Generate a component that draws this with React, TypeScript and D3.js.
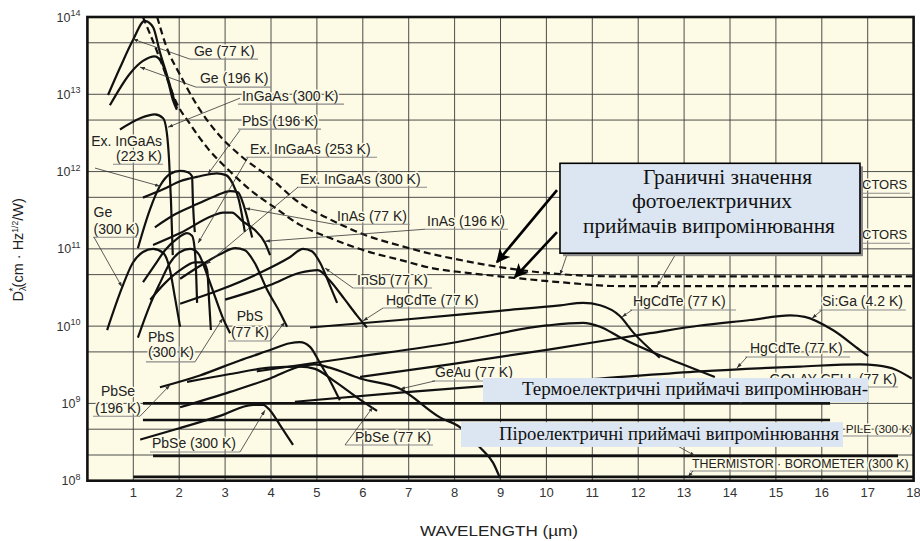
import React, { useEffect, useRef } from 'react';
import * as d3 from 'd3';

type Pt = [number, number];

// ---------- axes ----------
const xTickValues = [1, 2, 3, 4, 5, 6, 7, 8, 9, 10, 11, 12, 13, 14, 15, 16, 17, 18];
const xTickLabels = ['1', '2', '3', '4', '5', '6', '7', '8', '9', '10', '11', '12', '13', '14', '15', '16', '17', '18'];
const xGridValues = [1, 2, 3, 4, 5, 6, 7, 8, 9, 10, 11, 12, 13, 14, 15, 16, 17];
const yDecadeExps = [8, 9, 10, 11, 12, 13, 14];
const yMinorGrid = [2.15e8, 4.64e8, 4.64e9, 4.64e10, 4.64e11, 4.64e12, 4.64e13];

// ---------- photon detectors: [wavelength µm, D*] ----------
const ge77: Pt[] = [[0.45, 9.8e12], [0.71, 2.2e13], [0.99, 5.0e13], [1.25, 8.9e13], [1.43, 7.4e13], [1.58, 3.5e13], [1.73, 1.8e13], [1.84, 1.07e13], [1.95, 6.6e12]];
const ge196: Pt[] = [[0.49, 7.2e12], [0.93, 1.86e13], [1.21, 2.7e13], [1.47, 3.1e13], [1.63, 2.5e13], [1.76, 1.45e13], [1.86, 8.5e12], [1.95, 6.3e12]];
const ingaas300: Pt[] = [[0.71, 3.5e12], [1.15, 4.9e12], [1.47, 5.5e12], [1.65, 4.9e12], [1.73, 3.2e12], [1.78, 1.4e12], [1.82, 4.3e11], [1.86, 8.3e10]];
const exIngaas223: Pt[] = [[1.10, 1.02e11], [1.36, 3.2e11], [1.58, 6.5e11], [1.80, 9.3e11], [2.02, 1.02e12], [2.19, 9.8e11], [2.28, 8.7e11], [2.30, 3.9e11], [2.34, 1.65e11]];
const pbs196: Pt[] = [[1.21, 4.6e11], [1.65, 5.9e11], [2.02, 7.5e11], [2.45, 8.7e11], [2.82, 9.5e11], [3.02, 9.0e11], [3.17, 6.9e11], [3.30, 4.3e11], [3.43, 1.66e11]];
const exIngaas253: Pt[] = [[1.21, 3.7e10], [1.47, 6.2e10], [1.69, 9.6e10], [1.97, 1.38e11], [2.17, 1.6e11], [2.28, 1.48e11], [2.34, 9.6e10], [2.37, 4.6e10], [2.39, 2.0e10]];
const exIngaas300: Pt[] = [[1.37, 2.2e10], [1.69, 3.6e10], [2.02, 5.3e10], [2.34, 6.7e10], [2.52, 6.7e10], [2.61, 5.3e10], [2.65, 2.2e10], [2.69, 8.9e9]];
const pbs300: Pt[] = [[1.10, 7.1e9], [1.36, 1.86e10], [1.58, 3.6e10], [1.80, 6.6e10], [2.02, 9.1e10], [2.24, 1.0e11], [2.41, 8.8e10], [2.61, 4.6e10], [2.78, 2.4e10], [2.95, 1.28e10], [3.11, 8.1e9]];
const ge300: Pt[] = [[0.43, 8.9e9], [0.75, 3.1e10], [0.99, 6.6e10], [1.21, 9.1e10], [1.43, 1.0e11], [1.65, 8.9e10], [1.80, 5.3e10], [1.91, 2.3e10], [2.02, 9.8e9]];
const inas77: Pt[] = [[1.47, 1.9e11], [1.91, 2.8e11], [2.39, 3.8e11], [2.78, 4.8e11], [3.11, 5.6e11], [3.28, 5.4e11], [3.39, 3.9e11], [3.50, 2.3e11], [3.59, 1.4e11]];
const inas196: Pt[] = [[1.43, 1.12e11], [2.02, 1.6e11], [2.74, 2.7e11], [2.95, 2.95e11], [3.15, 2.95e11], [3.37, 2.3e11], [3.65, 1.75e11], [3.87, 1.19e11], [3.98, 8.3e10]];
const pbs77: Pt[] = [[2.02, 4.1e10], [2.45, 6.0e10], [2.89, 8.5e10], [3.22, 1.02e11], [3.43, 9.6e10], [3.65, 6.5e10], [3.91, 3.0e10], [4.20, 1.48e10], [4.35, 9.8e9]];
const insb77: Pt[] = [[2.02, 1.95e10], [2.89, 2.95e10], [3.76, 4.9e10], [4.41, 7.8e10], [4.70, 1.0e11], [4.89, 9.3e10], [5.07, 6.6e10], [5.28, 3.4e10], [5.44, 2.0e10]];
const inassb77: Pt[] = [[3.0, 2.2e10], [3.98, 3.4e10], [4.63, 4.9e10], [5.02, 5.3e10], [5.28, 3.9e10], [5.61, 2.2e10], [5.87, 1.38e10], [6.09, 9.6e9]];
const hgcdteA: Pt[] = [[4.85, 9.6e9], [6.81, 1.2e10], [8.99, 1.58e10], [10.30, 1.86e10], [10.80, 2.0e10], [11.17, 1.86e10], [11.60, 1.35e10], [11.89, 8.3e9], [12.47, 3.9e9]];
const hgcdteB: Pt[] = [[3.69, 2.6e9], [5.72, 3.9e9], [7.90, 6.0e9], [10.01, 1.02e10], [10.80, 1.1e10], [11.17, 9.8e9], [11.60, 7.2e9], [12.47, 4.2e9], [12.91, 3.3e9], [13.67, 2.2e9]];
const siGa: Pt[] = [[5.94, 2.2e9], [7.90, 3.2e9], [10.08, 5.0e9], [12.26, 8.1e9], [13.35, 1.02e10], [14.44, 1.2e10], [15.31, 1.38e10], [15.63, 1.32e10], [16.24, 8.9e9], [16.83, 4.9e9], [17.01, 4.1e9]];
const hgcdteC: Pt[] = [[4.52, 1.05e9], [6.81, 1.38e9], [8.99, 1.74e9], [11.17, 2.1e9], [13.35, 2.6e9], [15.52, 3.0e9], [16.83, 3.2e9], [17.2, 3.1e9], [17.6, 2.75e9], [17.96, 2.1e9]];
const geAu77: Pt[] = [[2.02, 8.9e8], [3.11, 1.41e9], [3.98, 2.1e9], [4.63, 3.0e9], [4.96, 3.2e9], [5.28, 2.9e9], [5.94, 2.1e9], [6.81, 1.55e9], [7.68, 6.6e8], [8.12, 4.9e8], [8.55, 2.7e8], [8.84, 1.7e8], [8.99, 1.08e8]];
const pbse196: Pt[] = [[1.58, 1.62e9], [2.45, 2.3e9], [3.32, 3.6e9], [3.98, 4.9e9], [4.41, 6.0e9], [4.63, 6.2e9], [4.85, 5.4e9], [5.07, 3.3e9], [5.28, 2.0e9], [5.50, 1.1e9]];
const pbse77: Pt[] = [[2.17, 1.9e9], [3.11, 2.4e9], [3.98, 2.9e9], [4.63, 3.0e9], [4.96, 2.8e9], [5.35, 2.0e9], [5.87, 1.2e9], [6.31, 8.0e8]];
const pbse300: Pt[] = [[1.15, 3.4e8], [2.02, 4.8e8], [2.89, 6.9e8], [3.61, 9.6e8], [3.83, 9.6e8], [3.98, 8.1e8], [4.20, 5.2e8], [4.48, 2.9e8]];

// ---------- ideal (background-limited) detectors ----------
const limitPV: Pt[] = [[1.52, 1.0e14], [1.73, 4.0e13], [2.02, 1.78e13], [2.39, 7.2e12], [2.82, 3.2e12], [3.33, 1.62e12], [3.98, 8.3e11], [4.63, 3.9e11], [5.29, 2.4e11], [6.09, 1.48e11], [6.81, 1.1e11], [7.53, 8.5e10], [8.27, 6.9e10], [8.99, 5.8e10], [10.30, 4.7e10], [11.60, 4.4e10], [18, 4.4e10]];
const limitPC: Pt[] = [[1.21, 1.0e14], [1.52, 3.55e13], [1.73, 1.66e13], [1.91, 8.5e12], [2.24, 4.1e12], [2.61, 2.04e12], [3.11, 1.0e12], [3.61, 5.4e11], [4.09, 3.4e11], [4.63, 2.04e11], [5.29, 1.38e11], [6.09, 9.3e10], [6.81, 7.2e10], [7.53, 5.6e10], [8.27, 4.9e10], [9.32, 4.2e10], [10.30, 3.7e10], [11.60, 3.3e10], [18, 3.3e10]];

// ---------- thermal detectors ----------
const golay: Pt[] = [[1.21, 1.0e9], [16.18, 1.0e9]];
const pyro: Pt[] = [[1.21, 6.1e8], [16.18, 6.1e8]];
const thermopile: Pt[] = [[1.43, 2.1e8], [17.66, 2.1e8]];
const thermistor: Pt[] = [[1.0, 1.12e8], [18, 1.12e8]];

const solidSeries = [ge77, ge196, ingaas300, exIngaas223, pbs196, exIngaas253, exIngaas300, pbs300, ge300, inas77, inas196, pbs77, insb77, inassb77, hgcdteA, hgcdteB, siGa, hgcdteC, geAu77, pbse196, pbse77, pbse300];
const dashedSeries = [limitPV, limitPC];
const thermalSeries = [golay, pyro, thermopile, thermistor];

// ---------- annotations (x in µm, y in log10 D*) ----------
type Label = { lines: string[]; anchor: string; x: number; base: number[]; ul: number[]; leader: number[]; fs?: number };
const labels: Label[] = [
  { lines: ['Ge (77 K)'], anchor: 'start', x: 2.32, base: [13.494], ul: [2.235, 3.717, 13.455], leader: [2.235, 13.455, 0.994, 13.714] },
  { lines: ['Ge (196 K)'], anchor: 'start', x: 2.453, base: [13.144], ul: [2.366, 4.0, 13.093], leader: [2.366, 13.093, 1.146, 13.352] },
  { lines: ['InGaAs (300 K)'], anchor: 'start', x: 3.368, base: [12.911], ul: [3.281, 5.59, 12.873], leader: [3.325, 12.95, 1.756, 12.575] },
  { lines: ['PbS (196 K)'], anchor: 'start', x: 3.368, base: [12.588], ul: [3.281, 5.089, 12.549], leader: [3.325, 12.536, 2.627, 11.967] },
  { lines: ['Ex. InGaAs (253 K)'], anchor: 'start', x: 3.542, base: [12.224], ul: [3.455, 6.309, 12.185], leader: [3.499, 12.185, 2.41, 11.073] },
  { lines: ['Ex. InGaAs (300 K)'], anchor: 'start', x: 4.632, base: [11.838], ul: [4.566, 7.399, 11.798], leader: [4.588, 11.798, 2.584, 10.8] },
  { lines: ['InAs (77 K)'], anchor: 'start', x: 5.438, base: [11.357], ul: [5.375, 7.028, 11.318], leader: [5.375, 11.318, 3.434, 11.526] },
  { lines: ['InAs (196 K)'], anchor: 'start', x: 7.399, base: [11.292], ul: [7.355, 9.164, 11.254], leader: [7.355, 11.254, 3.869, 11.098] },
  { lines: ['InSb (77 K)'], anchor: 'start', x: 5.874, base: [10.532], ul: [5.787, 7.508, 10.493], leader: [5.787, 10.493, 5.176, 10.752] },
  { lines: ['HgCdTe (77 K)'], anchor: 'start', x: 6.505, base: [10.273], ul: [6.44, 8.424, 10.234], leader: [6.44, 10.234, 6.004, 10.068] },
  { lines: ['PbS', '(77 K)'], anchor: 'middle', x: 3.542, base: [10.068, 9.86], ul: [3.063, 3.978, 9.808], leader: [3.978, 9.808, 4.305, 10.054] },
  { lines: ['PbS', '(300 K)'], anchor: 'start', x: 1.32, base: [9.795, 9.601], ul: [1.277, 2.344, 9.537], leader: [2.344, 9.537, 2.954, 10.106] },
  { lines: ['Ex. InGaAs', '(223 K)'], anchor: 'end', x: 1.625, base: [12.329, 12.133], ul: [0.558, 1.647, 12.094], leader: [0.166, 12.045, 1.582, 11.811] },
  { lines: ['Ge', '(300 K)'], anchor: 'start', x: 0.133, base: [11.411, 11.189], ul: [0.122, 1.081, 11.15], leader: [0.144, 11.15, 0.754, 10.506] },
  { lines: ['PbSe', '(196 K)'], anchor: 'middle', x: 0.667, base: [9.096, 8.873], ul: [0.122, 1.146, 8.834], leader: [1.146, 8.834, 1.8, 9.238] },
  { lines: ['PbSe (300 K)'], anchor: 'start', x: 1.407, base: [8.424], ul: [1.364, 3.325, 8.372], leader: [3.325, 8.372, 3.869, 8.912] },
  { lines: ['PbSe (77 K)'], anchor: 'start', x: 5.83, base: [8.5], ul: [5.612, 7.53, 8.462], leader: [5.612, 8.462, 6.222, 8.954] },
  { lines: ['GeAu (77 K)'], anchor: 'start', x: 7.573, base: [9.342], ul: [7.508, 9.316, 9.291], leader: [7.573, 9.291, 6.81, 9.186] },
  { lines: ['HgCdTe (77 K)'], anchor: 'start', x: 11.887, base: [10.261], ul: [11.822, 14.13, 10.209], leader: [11.865, 10.209, 11.647, 10.118] },
  { lines: ['Si:Ga (4.2 K)'], anchor: 'start', x: 16.004, base: [10.261], ul: [15.939, 17.83, 10.209], leader: [16.004, 10.209, 15.786, 10.10] },
  { lines: ['HgCdTe (77 K)'], anchor: 'start', x: 14.436, base: [9.652], ul: [14.327, 16.614, 9.601], leader: [14.37, 9.601, 14.152, 9.459] },
  { lines: ['GOLAY CELL (77 K)'], anchor: 'end', x: 17.637, base: [9.251], ul: [14.654, 17.66, 9.212], leader: [14.654, 9.212, 14.2, 9.0] },
  { lines: ['PILE (300 K)'], anchor: 'start', x: 16.52, base: [8.614], ul: [12.476, 17.94, 8.578], leader: [12.476, 8.578, 13.237, 8.322], fs: 11.8 },
  { lines: ['THERMISTOR · BOROMETER (300 K)'], anchor: 'start', x: 13.172, base: [8.164], ul: [13.129, 17.94, 8.126], leader: [13.194, 8.126, 13.085, 8.048], fs: 12.4 },
  { lines: ['CTORS'], anchor: 'start', x: 16.876, base: [11.772], ul: [10.907, 17.92, 11.72], leader: [10.907, 11.72, 10.296, 10.661], fs: 13 },
  { lines: ['CTORS'], anchor: 'start', x: 16.876, base: [11.124], ul: [12.955, 17.92, 11.073], leader: [12.955, 11.073, 12.41, 10.519], fs: 13 },
];

const box1Lines = ['Граничні значення', 'фотоелектричних', 'приймачів випромінювання'];
const box1Pos = [[12.105, 11.838], [11.865, 11.526], [10.797, 11.202]];
const box1Extent = [10.296, 16.832, 12.107, 10.944];
const box1LongestEnd = 16.288;
const box2Text = 'Термоелектричні приймачі випромінюван-';
const box2Extent = [8.619, 17.007, 9.329, 9.018];
const box2TextPos = [9.468, 17.007, 9.109];
const box3Text = 'Піроелектричні приймачі випромінювання';
const box3Extent = [8.139, 16.462, 8.757, 8.437];
const box3TextPos = [8.967, 16.375, 8.527];
const bigArrows = [[10.231, 11.759, 8.924, 10.829], [10.231, 11.215, 9.316, 10.635]];

export default function App() {
  const ref = useRef<SVGSVGElement | null>(null);

  useEffect(() => {
    const el = ref.current;
    if (!el) return;
    const svg = d3.select(el);
    svg.selectAll('*').remove();

    const x = d3.scaleLinear().domain([0, 18]).range([87.4, 913.6]);
    const y = d3.scaleLog().domain([1e8, 1e14]).range([480.7, 17]);
    const yl = (lg: number) => y(Math.pow(10, lg));
    const L = x(0), R = x(18), T = y(1e14), B = y(1e8);
    const SANS = "'Liberation Sans', Arial, Helvetica, sans-serif";
    const SERIF = "'Liberation Serif', 'Times New Roman', serif";
    const CREAM = '#FDFBE6';
    const BOX = '#DCE6F2';

    const defs = svg.append('defs');
    defs.append('clipPath').attr('id', 'plotClip').append('rect')
      .attr('x', L).attr('y', T).attr('width', R - L).attr('height', B - T);
    defs.append('marker').attr('id', 'tip').attr('viewBox', '0 0 10 10').attr('refX', 10).attr('refY', 5)
      .attr('markerWidth', 5).attr('markerHeight', 5).attr('markerUnits', 'userSpaceOnUse').attr('orient', 'auto')
      .append('path').attr('d', 'M0,1.5 L10,5 L0,8.5 z').attr('fill', '#333');
    defs.append('marker').attr('id', 'bigArrow').attr('viewBox', '0 0 10 10').attr('refX', 9).attr('refY', 5)
      .attr('markerWidth', 17).attr('markerHeight', 14).attr('markerUnits', 'userSpaceOnUse').attr('orient', 'auto')
      .append('path').attr('d', 'M0,0 L10,5 L0,10 L2.5,5 z').attr('fill', '#000');

    svg.append('rect').attr('width', 920).attr('height', 541).attr('fill', '#fff');
    svg.append('rect').attr('x', L).attr('y', T).attr('width', R - L).attr('height', B - T).attr('fill', CREAM);

    // grid
    const grid = svg.append('g').attr('stroke', '#3a3a3a').attr('stroke-width', 0.9);
    xGridValues.forEach(v => grid.append('line').attr('x1', x(v)).attr('x2', x(v)).attr('y1', T).attr('y2', B));
    yDecadeExps.forEach(e => grid.append('line').attr('x1', L).attr('x2', R).attr('y1', y(Math.pow(10, e))).attr('y2', y(Math.pow(10, e))));
    yMinorGrid.forEach(v => grid.append('line').attr('x1', L).attr('x2', R).attr('y1', y(v)).attr('y2', y(v)));

    // labels with halo (knock out grid lines)
    const lab = svg.append('g').attr('font-family', SANS).attr('fill', '#222');
    labels.forEach(lb => {
      const t = lab.append('text').attr('text-anchor', lb.anchor).attr('font-size', lb.fs || 14)
        .attr('stroke', CREAM).attr('stroke-width', 3).attr('paint-order', 'stroke').attr('stroke-linejoin', 'round');
      lb.lines.forEach((s, i) => t.append('tspan').attr('x', x(lb.x)).attr('y', yl(lb.base[i])).text(s));
    });
    const ulg = svg.append('g').attr('stroke', '#8a8a8a').attr('stroke-width', 1.1);
    labels.forEach(lb => {
      ulg.append('line').attr('x1', x(lb.ul[0])).attr('x2', x(lb.ul[1])).attr('y1', yl(lb.ul[2])).attr('y2', yl(lb.ul[2]));
    });

    const plot = svg.append('g').attr('clip-path', 'url(#plotClip)');
    const line = d3.line<Pt>().x(d => x(d[0])).y(d => y(d[1])).curve(d3.curveMonotoneX);
    thermalSeries.forEach(s => plot.append('path').attr('d', line(s) as string).attr('fill', 'none')
      .attr('stroke', '#111').attr('stroke-width', 2.7));
    solidSeries.forEach(s => plot.append('path').attr('d', line(s) as string).attr('fill', 'none')
      .attr('stroke', '#111').attr('stroke-width', 2.2).attr('stroke-linejoin', 'round'));
    dashedSeries.forEach(s => plot.append('path').attr('d', line(s) as string).attr('fill', 'none')
      .attr('stroke', '#111').attr('stroke-width', 2.2).attr('stroke-dasharray', '7,4'));

    // leaders
    const ld = svg.append('g').attr('stroke', '#333').attr('stroke-width', 0.8);
    labels.forEach(lb => {
      ld.append('line').attr('x1', x(lb.leader[0])).attr('y1', yl(lb.leader[1]))
        .attr('x2', x(lb.leader[2])).attr('y2', yl(lb.leader[3])).attr('marker-end', 'url(#tip)');
    });

    // Box 1
    const b1x0 = x(box1Extent[0]), b1x1 = x(box1Extent[1]), b1y0 = yl(box1Extent[2]), b1y1 = yl(box1Extent[3]);
    svg.append('rect').attr('x', b1x0 + 3).attr('y', b1y0 + 3).attr('width', b1x1 - b1x0).attr('height', b1y1 - b1y0).attr('fill', '#8a8a8a');
    svg.append('rect').attr('x', b1x0).attr('y', b1y0).attr('width', b1x1 - b1x0).attr('height', b1y1 - b1y0)
      .attr('fill', BOX).attr('stroke', '#000').attr('stroke-width', 1.6);
    const b1 = svg.append('g').attr('font-family', SERIF).attr('fill', '#111');
    const b1t = box1Lines.map((s, i) => b1.append('text').attr('x', x(box1Pos[i][0])).attr('y', yl(box1Pos[i][1])).attr('font-size', 20).text(s));
    {
      const len = (b1t[2].node() as SVGTextElement).getComputedTextLength();
      const target = x(box1LongestEnd) - x(box1Pos[2][0]);
      let fs = len > 0 ? 20 * target / len : 20;
      fs = Math.max(16, Math.min(22, fs));
      b1t.forEach(t => t.attr('font-size', fs));
    }

    // Box 2 and 3
    const drawFlat = (ext: number[], s: string, pos: number[]) => {
      const bx0 = x(ext[0]), bx1 = x(ext[1]), by0 = yl(ext[2]), by1 = yl(ext[3]);
      svg.append('rect').attr('x', bx0).attr('y', by0).attr('width', bx1 - bx0).attr('height', by1 - by0).attr('fill', BOX);
      const t = svg.append('text').attr('font-family', SERIF).attr('fill', '#111').attr('font-size', 17.5)
        .attr('x', x(pos[0])).attr('y', yl(pos[2])).text(s);
      const len = (t.node() as SVGTextElement).getComputedTextLength();
      const target = x(pos[1]) - x(pos[0]);
      let fs = len > 0 ? 17.5 * target / len : 17.5;
      fs = Math.max(15.5, Math.min(19, fs));
      t.attr('font-size', fs).attr('textLength', target).attr('lengthAdjust', 'spacing');
    };
    drawFlat(box2Extent, box2Text, box2TextPos);
    drawFlat(box3Extent, box3Text, box3TextPos);

    // big arrows
    bigArrows.forEach(a => svg.append('line').attr('x1', x(a[0])).attr('y1', yl(a[1])).attr('x2', x(a[2])).attr('y2', yl(a[3]))
      .attr('stroke', '#000').attr('stroke-width', 2.6).attr('marker-end', 'url(#bigArrow)'));

    // frame
    svg.append('rect').attr('x', L).attr('y', T).attr('width', R - L).attr('height', B - T)
      .attr('fill', 'none').attr('stroke', '#111').attr('stroke-width', 2.6);

    // x tick labels
    const xt = svg.append('g').attr('font-family', SANS).attr('font-size', 13).attr('fill', '#333').attr('text-anchor', 'middle');
    xTickValues.forEach((v, i) => xt.append('text').attr('x', x(v)).attr('y', B + 16.5).text(xTickLabels[i]));

    // y tick labels
    const yt = svg.append('g').attr('font-family', SANS).attr('fill', '#333');
    yDecadeExps.forEach(e => {
      const t = yt.append('text').attr('text-anchor', 'end').attr('x', 80.5).attr('y', y(Math.pow(10, e)) + 4.5);
      t.append('tspan').attr('font-size', 12.5).text('10');
      t.append('tspan').attr('font-size', 9).attr('dy', -5.5).text(String(e));
    });

    // axis titles
    svg.append('text').attr('x', 499).attr('y', B + 55).attr('text-anchor', 'middle').attr('font-family', SANS)
      .attr('font-size', 15).attr('fill', '#222').attr('textLength', 158).attr('lengthAdjust', 'spacingAndGlyphs')
      .text('WAVELENGTH (µm)');
    const yt2 = svg.append('text').attr('transform', `translate(23,${(T + B) / 2 + 1}) rotate(-90)`).attr('text-anchor', 'middle')
      .attr('font-family', SANS).attr('font-size', 14.5).attr('fill', '#222');
    yt2.append('tspan').text('D');
    yt2.append('tspan').attr('font-size', 9.5).attr('dy', 3).text('λ');
    yt2.append('tspan').attr('font-size', 11).attr('dx', -5.5).attr('dy', -9).text('*');
    yt2.append('tspan').attr('dy', 6).text('(cm · Hz');
    yt2.append('tspan').attr('font-size', 8.5).attr('dy', -5.5).text('1/2');
    yt2.append('tspan').attr('dy', 5.5).text('/W)');
  }, []);

  return <svg ref={ref} width={920} height={541} style={{ position: 'absolute', left: 0, top: 0 }} />;
}
